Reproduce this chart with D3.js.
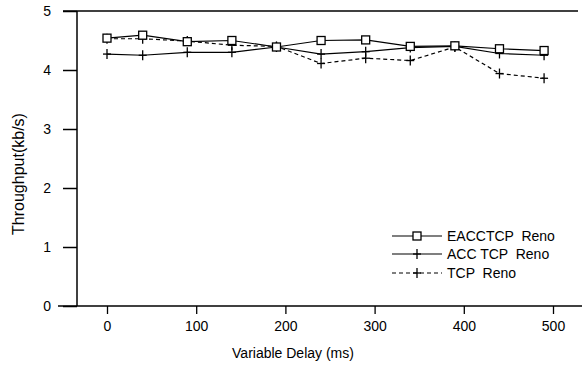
<!DOCTYPE html>
<html>
<head>
<meta charset="utf-8">
<script src="https://cdn.jsdelivr.net/npm/d3@7"></script>
<style>
  body { margin: 0; background: #fff; }
  svg { display: block; font-family: "Liberation Sans", Arial, sans-serif; }
</style>
</head>
<body>
<div id="chart"></div>
<script>
// data
var delays = [0, 40, 90, 140, 190, 240, 290, 340, 390, 440, 490];
var eacc = [4.54, 4.59, 4.48, 4.50, 4.39, 4.50, 4.51, 4.40, 4.41, 4.36, 4.33];
var acc = [4.27, 4.25, 4.30, 4.30, 4.39, 4.27, 4.31, 4.38, 4.40, 4.28, 4.25];
var tcp = [4.53, 4.53, 4.49, 4.42, 4.40, 4.11, 4.20, 4.16, 4.39, 3.94, 3.86];
var xTicks = [0, 100, 200, 300, 400, 500];
var yTicks = [0, 1, 2, 3, 4, 5];
var seriesNames = ["EACCTCP  Reno", "ACC TCP  Reno", "TCP  Reno"];

var width = 582, height = 367;
var svg = d3.select("#chart").append("svg")
    .attr("width", width)
    .attr("height", height);

var x = d3.scaleLinear().domain([0, 500]).range([107, 553]);
var y = d3.scaleLinear().domain([0, 5]).range([306, 11]);
var axisX = 77;

// x axis
var gx = svg.append("g")
    .attr("transform", "translate(0," + y(0) + ")")
    .call(d3.axisBottom(x).tickValues(xTicks).tickSize(8).tickPadding(7));
gx.select(".domain").remove();
gx.selectAll("line").attr("stroke-width", 1.3);
gx.selectAll("text").attr("font-size", 14).attr("fill", "#000");
svg.append("line")
    .attr("x1", 58).attr("x2", 582)
    .attr("y1", y(0)).attr("y2", y(0))
    .attr("stroke", "#000").attr("stroke-width", 1.5);

// y axis
var gy = svg.append("g")
    .attr("transform", "translate(" + axisX + ",0)")
    .call(d3.axisLeft(y).tickValues(yTicks).tickFormat(d3.format("d"))
        .tickSize(14).tickPadding(12));
gy.select(".domain").remove();
gy.selectAll("line").attr("stroke-width", 1.5);
gy.selectAll("text").attr("font-size", 14).attr("fill", "#000");
svg.append("line")
    .attr("x1", axisX).attr("x2", axisX)
    .attr("y1", y(5)).attr("y2", y(0))
    .attr("stroke", "#000").attr("stroke-width", 1.5);
// top border
svg.append("line")
    .attr("x1", 63).attr("x2", 578)
    .attr("y1", y(5)).attr("y2", y(5))
    .attr("stroke", "#000").attr("stroke-width", 1.3);

// axis titles
svg.append("text")
    .attr("x", 293).attr("y", 358)
    .attr("text-anchor", "middle")
    .attr("font-size", 14)
    .text("Variable Delay (ms)");
svg.append("text")
    .attr("transform", "translate(24,174) rotate(-90)")
    .attr("text-anchor", "middle")
    .attr("font-size", 16)
    .text("Throughput(kb/s)");

var line = d3.line()
    .x(function (d) { return x(d[0]); })
    .y(function (d) { return y(d[1]); });

function pairs(vals) {
    return delays.map(function (d, i) { return [d, vals[i]]; });
}

function drawPlus(g, cx, cy) {
    g.append("line").attr("x1", cx).attr("x2", cx)
        .attr("y1", cy - 5).attr("y2", cy + 5)
        .attr("stroke", "#000").attr("stroke-width", 1.3);
    g.append("line").attr("x1", cx - 4).attr("x2", cx + 4)
        .attr("y1", cy).attr("y2", cy)
        .attr("stroke", "#000").attr("stroke-width", 1.3);
}

function drawSquare(g, cx, cy) {
    g.append("rect")
        .attr("x", cx - 4).attr("y", cy - 4)
        .attr("width", 8).attr("height", 8)
        .attr("fill", "#fff")
        .attr("stroke", "#000").attr("stroke-width", 1.3);
}

// TCP Reno (dashed)
svg.append("path")
    .datum(pairs(tcp))
    .attr("fill", "none").attr("stroke", "#000")
    .attr("stroke-width", 1.2).attr("stroke-dasharray", "4,3")
    .attr("d", line);
// ACC TCP Reno
svg.append("path")
    .datum(pairs(acc))
    .attr("fill", "none").attr("stroke", "#000")
    .attr("stroke-width", 1.2)
    .attr("d", line);
// EACCTCP Reno
svg.append("path")
    .datum(pairs(eacc))
    .attr("fill", "none").attr("stroke", "#000")
    .attr("stroke-width", 1.2)
    .attr("d", line);

var marks = svg.append("g");
pairs(tcp).forEach(function (d) { drawPlus(marks, x(d[0]), y(d[1])); });
pairs(acc).forEach(function (d) { drawPlus(marks, x(d[0]), y(d[1])); });
pairs(eacc).forEach(function (d) { drawSquare(marks, x(d[0]), y(d[1])); });

// legend
var legend = svg.append("g");
var legY = [236, 254, 273];
var dash = [null, null, "4,3"];
seriesNames.forEach(function (name, i) {
    legend.append("line")
        .attr("x1", 392).attr("x2", 442)
        .attr("y1", legY[i]).attr("y2", legY[i])
        .attr("stroke", "#000").attr("stroke-width", 1.2)
        .attr("stroke-dasharray", dash[i]);
    if (i === 0) drawSquare(legend, 417, legY[i]);
    else drawPlus(legend, 417, legY[i]);
    legend.append("text")
        .attr("x", 447).attr("y", legY[i] + 5)
        .attr("font-size", 14)
        .style("white-space", "pre")
        .text(name);
});
</script>
</body>
</html>
